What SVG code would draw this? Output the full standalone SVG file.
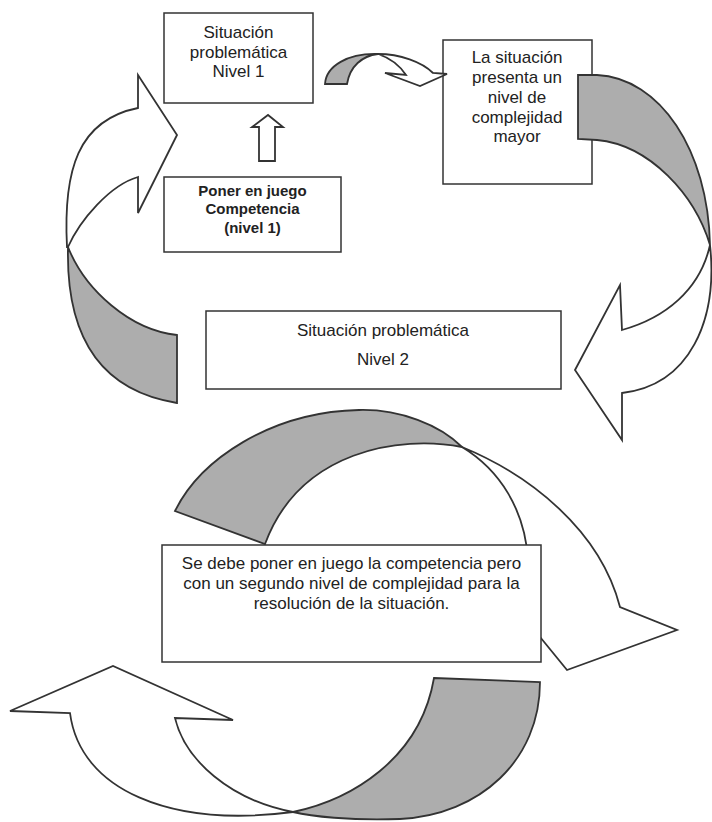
<svg xmlns="http://www.w3.org/2000/svg" width="712" height="822" viewBox="0 0 712 822">
<style>
.box{fill:#fff;stroke:#333;stroke-width:1.5}
.w{fill:#fff;stroke:#333;stroke-width:1.8;stroke-linejoin:miter}
.g{fill:#adadad;stroke:#333;stroke-width:1.8;stroke-linejoin:miter}
.t{font-family:"Liberation Sans",Arial,sans-serif;font-size:17px;fill:#222;text-anchor:middle}
.b{font-family:"Liberation Sans",Arial,sans-serif;font-size:15px;font-weight:bold;fill:#222;text-anchor:middle}
</style>
<rect width="712" height="822" fill="#fff"/>
<g id="node-sit1">
<rect class="box" x="164" y="13" width="149" height="90"/>
<text class="t" x="238.5" y="38">Situación</text>
<text class="t" x="238.5" y="58">problemática</text>
<text class="t" x="238.5" y="77">Nivel 1</text>
</g>
<g id="node-comp1">
<rect class="box" x="164" y="177" width="177" height="75"/>
<text class="b" x="252.5" y="196">Poner en juego</text>
<text class="b" x="252.5" y="214">Competencia</text>
<text class="b" x="252.5" y="233">(nivel 1)</text>
</g>
<g id="node-mayor">
<rect class="box" x="443" y="40" width="149" height="144"/>
<text class="t" x="517" y="63">La situación</text>
<text class="t" x="517" y="83">presenta un</text>
<text class="t" x="517" y="103">nivel de</text>
<text class="t" x="517" y="123">complejidad</text>
<text class="t" x="517" y="142">mayor</text>
</g>
<g id="node-sit2">
<rect class="box" x="206" y="311" width="355" height="78"/>
<text class="t" x="383" y="336">Situación problemática</text>
<text class="t" x="383" y="365">Nivel 2</text>
</g>
<g id="connectors">
<path class="w" d="M259,161 L259,127 L252,127 L268,115 L283,127 L275,127 L275,161 Z"/>
<path class="g" d="M325,84 C326,66 348,53 378,54 C362,56 350,66 347,84 Z"/>
<path class="w" d="M378,54 C400,54 422,62 433,73 L447,74 L420,86 L385,73 L406,75 C400,66 390,58 378,54 Z"/>
<path class="g" d="M578,75 L597,75 C660,78 708,150 710,245 C695,195 650,145 597,140 L578,139 Z"/>
<path class="w" d="M710,245 C718,320 690,385 622,393 L622,440 L575,370 L620,285 L622,330 C665,318 700,290 710,245 Z"/>
<path class="w" d="M67,247 C63,170 78,120 138,108 L138,75 L177,135 L138,213 L138,177 C110,185 80,220 68,247 Z"/>
<path class="g" d="M68,247 C66,330 95,390 177,403 L177,335 C130,330 85,290 68,247 Z"/>
<path class="g" d="M175,511 C200,460 270,412 359,410 C400,409 440,425 462,447 C400,435 300,450 265,544 Z"/>
<path class="w" d="M462,447 C530,475 600,530 620,607 L677,630 L567,670 L527,621 L528,560 C525,510 500,470 462,447 Z"/>
<path class="g" d="M434,678 L540,682 C540,760 480,815 400,819 C350,821 310,816 293,812 C350,800 420,760 434,678 Z"/>
<path class="w" d="M293,812 C170,828 80,790 70,713 L10,711 L113,666 L233,720 L175,718 C185,760 230,800 293,812 Z"/>
</g>
<g id="node-sit2-desc">
<rect class="box" x="162" y="545" width="379" height="117"/>
<text class="t" x="351.5" y="569">Se debe poner en juego la competencia pero</text>
<text class="t" x="351.5" y="589">con un segundo nivel de complejidad para la</text>
<text class="t" x="351.5" y="609">resolución de la situación.</text>
</g>
</svg>
